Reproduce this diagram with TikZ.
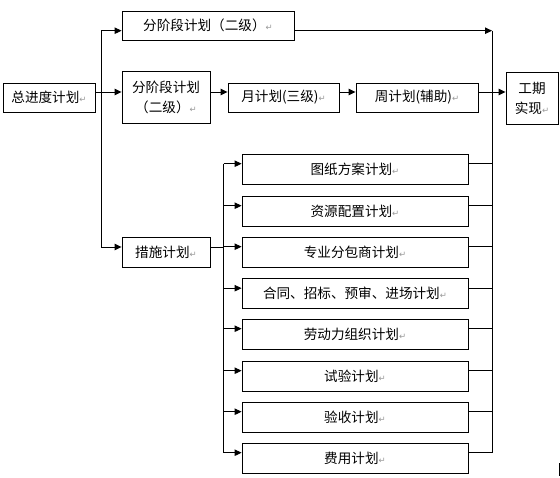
\documentclass[tikz,border=0pt]{standalone}
\usepackage{fontspec}
\setmainfont{Noto Sans CJK SC}
\newfontfamily\cjk{Noto Sans CJK SC}
\newfontfamily\dejavu{DejaVu Sans}
\usetikzlibrary{arrows.meta}
\newcommand\retmark{\textcolor{black!40}{\dejavu\fontsize{8.5}{8.5}\selectfont ↵}}
\tikzset{
  box/.style={draw=black, line width=0.9pt, inner sep=0pt, align=center,
    font=\cjk\fontsize{13.6}{20}\selectfont},
  conn/.style={line width=0.9pt, draw=black},
  arr/.style={conn, -{Triangle[length=7pt,width=6.5pt]}},
}
\begin{document}
\begin{tikzpicture}[x=1pt,y=-1pt]
\useasboundingbox[fill=white] (0,0) rectangle (560,478);
% main nodes
\node[box, minimum width=92, minimum height=29] (A) at (49,97.5) {总进度计划\retmark};
\node[box, minimum width=172, minimum height=29] (B1) at (208,25.5) {分阶段计划（二级）\retmark};
\node[box, minimum width=88, minimum height=52] (B2) at (166,97) {分阶段计划\\（二级）\retmark};
\node[box, minimum width=111, minimum height=29] (C) at (283.5,97.5) {月计划(三级)\retmark};
\node[box, minimum width=122, minimum height=29] (D) at (417,97.5) {周计划(辅助)\retmark};
\node[box, minimum width=52, minimum height=52] (E) at (532,98) {工期\\实现\retmark};
\node[box, minimum width=88, minimum height=30] (F) at (166,252) {措施计划\retmark};
% measure nodes
\node[box, minimum width=226, minimum height=30] (G1) at (355,169) {图纸方案计划\retmark};
\node[box, minimum width=226, minimum height=30] (G2) at (355,211) {资源配置计划\retmark};
\node[box, minimum width=226, minimum height=30] (G3) at (355,252) {专业分包商计划\retmark};
\node[box, minimum width=226, minimum height=30] (G4) at (355,293.5) {合同、招标、预审、进场计划\retmark};
\node[box, minimum width=226, minimum height=30] (G5) at (355,334) {劳动力组织计划\retmark};
\node[box, minimum width=226, minimum height=30] (G6) at (355,376) {试验计划\retmark};
\node[box, minimum width=226, minimum height=30] (G7) at (355,417) {验收计划\retmark};
\node[box, minimum width=226, minimum height=30] (G8) at (355,458) {费用计划\retmark};
% bus and level coordinates
\coordinate (bus1) at (101.5,0);
\coordinate (bus2) at (223.5,0);
\coordinate (bus3) at (492,0);
\coordinate (L0) at (0,30.7);
\coordinate (L1) at (0,92);
\coordinate (LF) at (0,247);
% top part
\draw[arr] (A.east |- L1) -- (B2.west |- L1);
\draw[arr] (bus1 |- L1) |- (B1.west |- L0);
\draw[arr] (bus1 |- L1) |- (F.west |- LF);
\draw[arr] (B1.east |- L0) -- (bus3 |- L0);
\draw[arr] (B2.east |- L1) -- (C.west |- L1);
\draw[arr] (C.east |- L1) -- (D.west |- L1);
\draw[arr] (D.east |- L1) -- (E.west |- L1);
\draw[conn] (F.east |- LF) -- (bus2 |- LF);
% measure connectors
\foreach \g in {G1,G2,G3,G4,G5,G6,G7,G8}{
  \coordinate (\g-in) at ([yshift=5.3pt]\g.west);
  \coordinate (\g-out) at ([yshift=5.3pt]\g.east);
  \draw[arr] (bus2 |- \g-in) -- (\g-in);
  \draw[conn] (\g-out) -- (bus3 |- \g-out);
}
\draw[conn] (bus2 |- G1-in) -- (bus2 |- G8-in);
\draw[conn] (bus3 |- L0) -- (bus3 |- G8-out);
% small mark at the lower right edge
\fill[black] (558.7,463) rectangle (560,476);
\end{tikzpicture}
\end{document}
